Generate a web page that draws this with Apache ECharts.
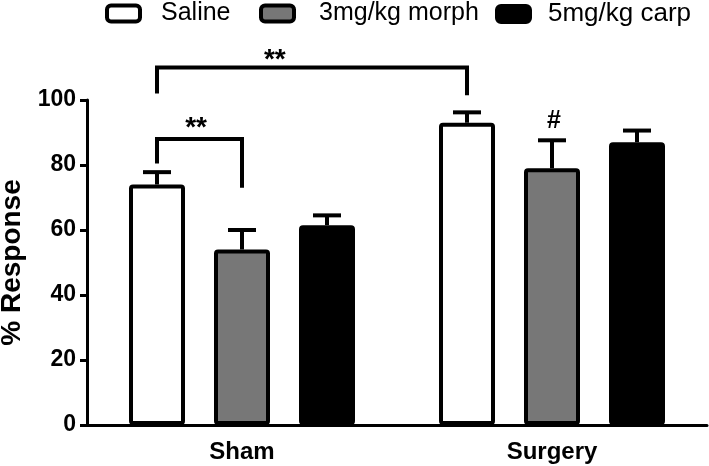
<!DOCTYPE html>
<html><head><meta charset="utf-8">
<script src="https://cdn.jsdelivr.net/npm/echarts@6/dist/echarts.min.js"></script>
<style>html,body{margin:0;padding:0;background:#fff}#c{width:709px;height:466px}</style>
</head><body><div id="c"></div>
<script>
const categories = ['Sham', 'Surgery'];
const seriesNames = ['Saline', '3mg/kg morph', '5mg/kg carp'];
const saline = [74, 93];
const morph = [54, 79];
const carp = [61.5, 87];
const salineErr = [3.8, 3.2];
const morphErr = [6, 8.6];
const carpErr = [3, 3.6];
const yTicks = [0, 20, 40, 60, 80, 100];
// significance brackets: endpoints as [category index, series index]
const brackets = [
  { from: [0, 0], to: [1, 0], top: 110, leftEnd: 102, rightEnd: 101.5, label: '**', labelAt: 0.38, labelValue: 112.2 },
  { from: [0, 0], to: [0, 1], top: 88, leftEnd: 80.5, rightEnd: 73, label: '**', labelAt: 0.46, labelValue: 91.2 }
];
const marks = [{ at: [1, 1], value: 93.5, label: '#' }];

const FONT = '"Liberation Sans", Arial, sans-serif';
const colors = ['#ffffff', '#777777', '#000000'];
const BAR_W = 56, BAR_STEP = 85;
function barOffset(s) { return (s - 1) * BAR_STEP; }

const means = [saline, morph, carp];
const errs = [salineErr, morphErr, carpErr];
const errData = [];
means.forEach((m, s) => m.forEach((v, c) => errData.push([c, v + errs[s][c], v, s])));

const chart = echarts.init(document.getElementById('c'));

function makeLegend(i, left, pad, fs) {
  return {
    data: [{ name: seriesNames[i], itemStyle: { color: colors[i], borderColor: '#000', borderWidth: 4 } }],
    left: left, top: 1, padding: 0, itemWidth: 33, itemHeight: 16, icon: 'roundRect',
    textStyle: { fontFamily: FONT, fontSize: fs, color: '#000', padding: [0, 0, 0, pad] },
    selectedMode: false
  };
}

const option = {
  backgroundColor: '#fff',
  animation: false,
  legend: [makeLegend(0, 105, 16, 25), makeLegend(1, 259, 20, 25), makeLegend(2, 495, 13, 26)],
  grid: { left: 87, right: 2, top: 100, bottom: 41, containLabel: false, outerBoundsMode: 'none' },
  xAxis: {
    type: 'category', data: categories,
    axisLine: { lineStyle: { color: '#000', width: 3 } },
    axisTick: { alignWithLabel: true, length: 7, lineStyle: { color: '#000', width: 3 } },
    axisLabel: { fontFamily: FONT, fontSize: 24, fontWeight: 'bold', color: '#000', margin: 15 }
  },
  yAxis: {
    type: 'value', min: yTicks[0], max: yTicks[yTicks.length - 1], interval: yTicks[1] - yTicks[0],
    name: '% Response', nameLocation: 'middle', nameGap: 60,
    nameTextStyle: { fontFamily: FONT, fontSize: 28, fontWeight: 'bold', color: '#000' },
    axisLine: { show: true, lineStyle: { color: '#000', width: 3 } },
    axisTick: { show: true, length: 7, lineStyle: { color: '#000', width: 3 } },
    splitLine: { show: false },
    axisLabel: { fontFamily: FONT, fontSize: 23, fontWeight: 'bold', color: '#000', margin: 11 }
  },
  series: seriesNames.map((n, i) => ({
    name: n, type: 'bar', data: means[i], barWidth: BAR_W, barGap: ((BAR_STEP - BAR_W) / BAR_W * 100) + '%',
    itemStyle: { color: colors[i], borderColor: '#000', borderWidth: 4, borderRadius: 2 },
    z: 2
  })).concat([
    {
      type: 'custom', name: 'err', data: errData, dimensions: ['x', 'hi', 'mean', 's'],
      encode: { x: 0, y: 1 }, z: 3, clip: false,
      renderItem: function (params, api) {
        const c = api.value(0), s = api.value(3);
        const top = api.coord([c, api.value(1)]);
        const base = api.coord([c, api.value(2)]);
        const x = top[0] + barOffset(s);
        return { type: 'group', children: [
          { type: 'line', shape: { x1: x, y1: base[1], x2: x, y2: top[1] }, style: { stroke: '#000', lineWidth: 4 } },
          { type: 'line', shape: { x1: x - 14, y1: top[1], x2: x + 14, y2: top[1] }, style: { stroke: '#000', lineWidth: 4 } }
        ] };
      }
    },
    {
      type: 'custom', name: 'brackets', data: brackets.map(b => [b.from[0], b.top]),
      encode: { x: 0, y: 1 }, z: 3, clip: false,
      renderItem: function (params, api) {
        const b = brackets[params.dataIndex];
        const x1 = api.coord([b.from[0], b.top])[0] + barOffset(b.from[1]);
        const x2 = api.coord([b.to[0], b.top])[0] + barOffset(b.to[1]);
        const yT = api.coord([0, b.top])[1];
        const yL = api.coord([0, b.leftEnd])[1];
        const yR = api.coord([0, b.rightEnd])[1];
        const yLab = api.coord([0, b.labelValue])[1];
        return { type: 'group', children: [
          { type: 'polyline', shape: { points: [[x1, yL], [x1, yT], [x2, yT], [x2, yR]] },
            style: { stroke: '#000', lineWidth: 4, fill: null, lineJoin: 'miter' } },
          { type: 'text', x: x1 + (x2 - x1) * b.labelAt, y: yLab,
            style: { text: b.label, fontFamily: FONT, fontSize: 28, fontWeight: 'bold', fill: '#000', align: 'center', verticalAlign: 'middle' } }
        ] };
      }
    },
    {
      type: 'custom', name: 'marks', data: marks.map(m => [m.at[0], m.value]),
      encode: { x: 0, y: 1 }, z: 3, clip: false,
      renderItem: function (params, api) {
        const m = marks[params.dataIndex];
        const p = api.coord([m.at[0], m.value]);
        return { type: 'text', x: p[0] + barOffset(m.at[1]) + 2, y: p[1],
          style: { text: m.label, fontFamily: FONT, fontSize: 25, fontWeight: 'bold', fill: '#000', align: 'center', verticalAlign: 'middle' } };
      }
    }
  ])
};
chart.setOption(option);
</script>
</body></html>
